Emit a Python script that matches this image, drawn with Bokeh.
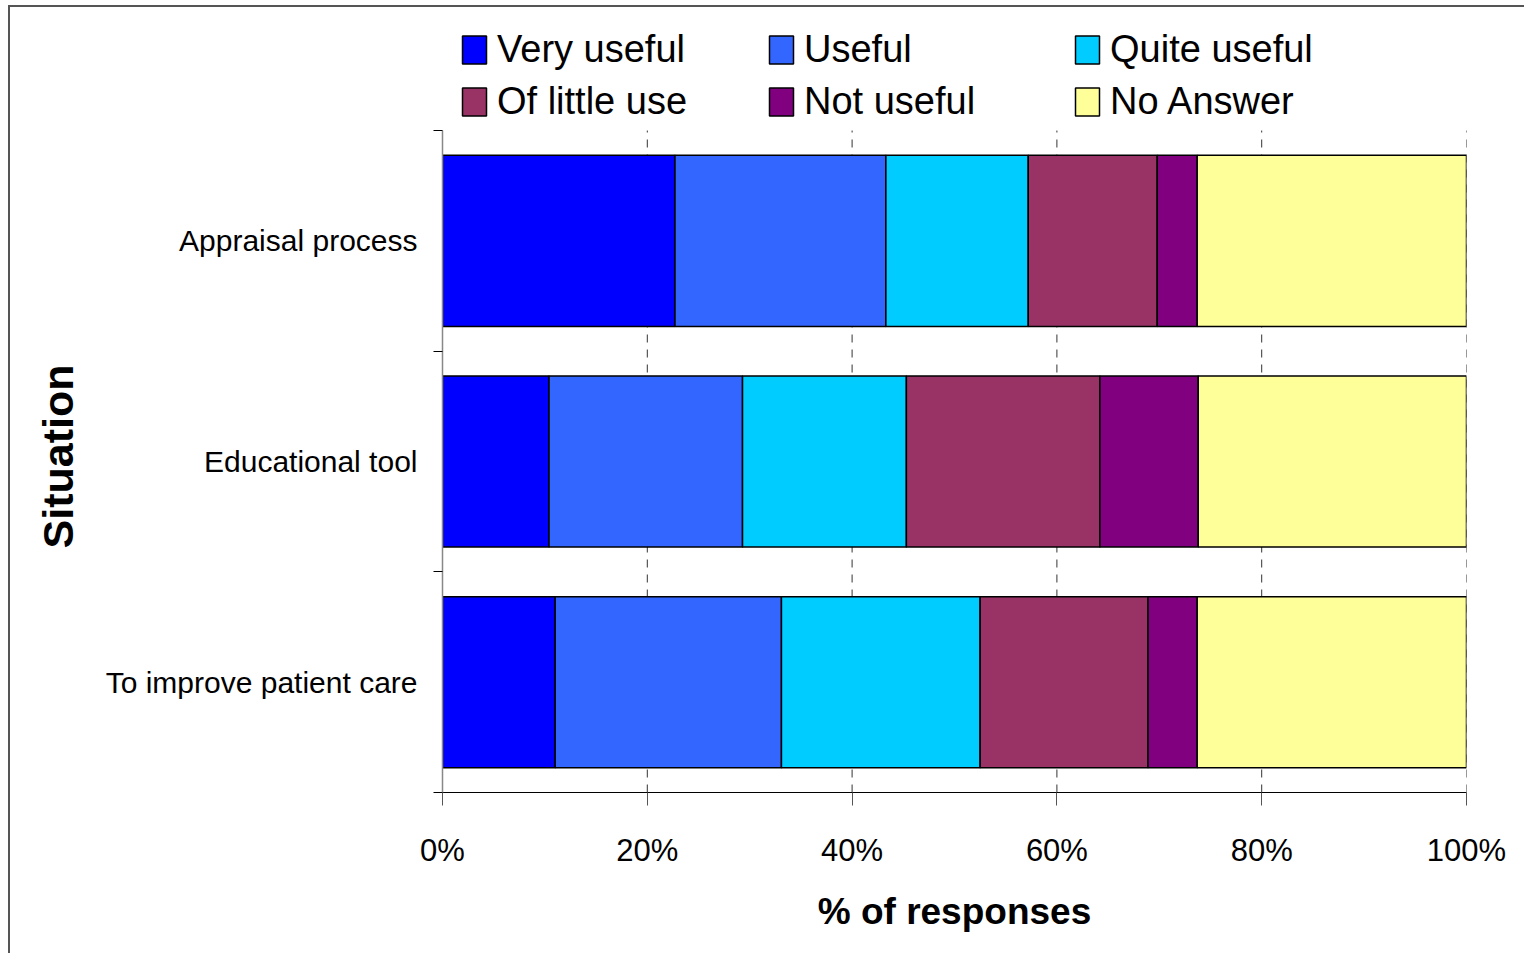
from bokeh.plotting import figure
from bokeh.models import (ColumnDataSource, Range1d, FixedTicker, PrintfTickFormatter,
                          Legend, LegendItem, Title)
from bokeh.embed import file_html
from bokeh.resources import INLINE

# Situations, listed bottom to top
situations = ["To improve patient care", "Educational tool", "Appraisal process"]
positions = [0.5, 1.5, 2.5]

# Share of responses (%) for each situation, same order as above
very_useful = [11.0, 10.4, 22.7]
useful = [22.1, 18.9, 20.6]
quite_useful = [19.4, 16.0, 13.9]
of_little_use = [16.4, 18.9, 12.6]
not_useful = [4.8, 9.6, 3.9]
no_answer = [26.3, 26.2, 26.3]

series_keys = ["very_useful", "useful", "quite_useful", "of_little_use", "not_useful", "no_answer"]
series_names = ["Very useful", "Useful", "Quite useful", "Of little use", "Not useful", "No Answer"]
colors = ["#0000FF", "#3366FF", "#00CCFF", "#993366", "#800080", "#FFFF99"]
x_ticks = [0, 20, 40, 60, 80, 100]

source = ColumnDataSource(dict(
    y=positions,
    very_useful=very_useful,
    useful=useful,
    quite_useful=quite_useful,
    of_little_use=of_little_use,
    not_useful=not_useful,
    no_answer=no_answer,
))

FONT = "Liberation Sans"
N_BANDS = len(situations)
LEGEND_ROOM = 0.535   # extra band space kept above the bars for the legend

p = figure(width=1516, height=948, output_backend="svg", toolbar_location=None,
           x_range=Range1d(0, 100), y_range=Range1d(0, N_BANDS + LEGEND_ROOM),
           min_border_left=432, min_border_right=60, min_border_top=5, min_border_bottom=163)
p.margin = (5, 0, 0, 8)
p.styles = {"border-left": "2px solid #555555", "border-top": "2px solid #555555"}
p.outline_line_color = None
p.background_fill_color = "white"
p.border_fill_color = "white"
p.xgrid.visible = False
p.ygrid.visible = False

# vertical dashed grid lines, limited to the band area
grid_x = x_ticks[1:]
p.segment(x0=grid_x, x1=grid_x, y0=[0] * len(grid_x), y1=[N_BANDS] * len(grid_x),
          line_color="#333333", line_dash="8 7", line_width=1)

renderers = p.hbar_stack(series_keys, y="y", height=0.775, fill_color=colors,
                         line_color="black", line_width=1.5, source=source)

# x axis
xa = p.xaxis[0]
xa.ticker = FixedTicker(ticks=x_ticks)
xa.formatter = PrintfTickFormatter(format="%d%%")
xa.major_tick_in = 0
xa.major_tick_out = 13
xa.major_tick_line_color = "#555555"
xa.axis_line_color = "black"
xa.major_label_text_font = FONT
xa.major_label_text_font_size = "31px"
xa.major_label_text_color = "black"
xa.major_label_standoff = 27
xa.axis_label = "% of responses"
xa.axis_label_text_font = FONT
xa.axis_label_text_font_style = "bold"
xa.axis_label_text_font_size = "37px"
xa.axis_label_text_color = "black"
xa.axis_label_standoff = 20

# y axis: labels at band centres, ticks at band boundaries
ya = p.yaxis[0]
ya.bounds = (0, N_BANDS)
ya.ticker = FixedTicker(ticks=positions, minor_ticks=list(range(N_BANDS + 1)))
ya.major_label_overrides = {pos: name for pos, name in zip(positions, situations)}
ya.major_tick_in = 0
ya.major_tick_out = 0
ya.minor_tick_in = 0
ya.minor_tick_out = 9
ya.minor_tick_line_color = "black"
ya.axis_line_color = "#888888"
ya.axis_line_width = 1.5
ya.major_label_text_font = FONT
ya.major_label_text_font_size = "30px"
ya.major_label_text_color = "black"
ya.major_label_standoff = 16

# y axis title, centred on the bands rather than on the whole frame
p.add_layout(Title(text="Situation", align="left", offset=244, standoff=42,
                   text_font=FONT, text_font_style="bold", text_font_size="43px",
                   text_color="black"), "left")

# legend: three columns of two entries above the bars
columns = [(0, 3), (1, 4), (2, 5)]
col_x = [17, 324, 630]
for (i, j), x in zip(columns, col_x):
    leg = Legend(
        items=[LegendItem(label=series_names[i], renderers=[renderers[i]]),
               LegendItem(label=series_names[j], renderers=[renderers[j]])],
        location=(x, 669), orientation="vertical",
        background_fill_alpha=0, border_line_color=None,
        padding=0, margin=0, spacing=9,
        glyph_width=30, glyph_height=35, label_standoff=8,
        label_text_font=FONT, label_text_font_size="38px", label_text_color="black",
    )
    p.add_layout(leg, "center")

open("out.html", "w").write(file_html(p, INLINE))
